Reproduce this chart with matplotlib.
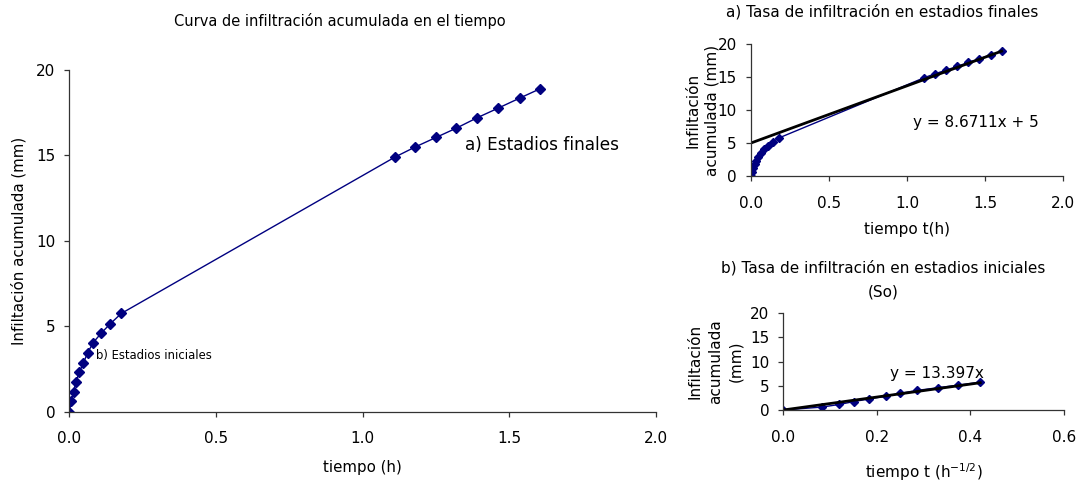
import matplotlib.pyplot as plt
import numpy as np

# tiempo (h) y raiz del tiempo para los estadios iniciales
raiz_t_ini = [0.0, 0.082, 0.12, 0.151, 0.184, 0.219, 0.25, 0.286, 0.33, 0.374, 0.421]
inf_ini = [0.0, 0.6, 1.15, 1.75, 2.3, 2.85, 3.45, 4.05, 4.6, 5.15, 5.75]

# estadios finales
t_fin = [1.11, 1.18, 1.25, 1.32, 1.39, 1.46, 1.535, 1.605]
inf_fin = [14.9, 15.5, 16.05, 16.6, 17.2, 17.75, 18.35, 18.9]

# ajustes lineales (Excel)
pend_fin, orden_fin = 8.6711, 5.0
pend_ini = 13.397

t_ini = [r ** 2 for r in raiz_t_ini]
t_todo = t_ini + t_fin
inf_todo = inf_ini + inf_fin

azul = '#000080'
W, H = 1085, 483


def ejes(x0, y0, x1, y1):
    # coordenadas en pixeles: (x0, y0) esquina inferior izquierda, (x1, y1) superior derecha
    ax = fig.add_axes([x0 / W, 1 - y0 / H, (x1 - x0) / W, (y0 - y1) / H])
    ax.spines['top'].set_visible(False)
    ax.spines['right'].set_visible(False)
    for s in ('left', 'bottom'):
        ax.spines[s].set_linewidth(0.9)
        ax.spines[s].set_color('#333333')
    ax.tick_params(direction='out', length=3.6, width=0.9, color='#333333', labelsize=11)
    ax.tick_params(axis='x', pad=10.5)
    ax.tick_params(axis='y', pad=6.5)
    return ax


fig = plt.figure(figsize=(W / 100, H / 100), dpi=100)

# grafico principal
ax = ejes(69.3, 411.7, 655.9, 70)
ax.plot(t_todo, inf_todo, color=azul, lw=1, marker='D', ms=5)
ax.set_xlim(0, 2)
ax.set_ylim(0, 20)
ax.set_xticks(np.arange(0, 2.01, 0.5))
ax.set_xticklabels(['0.0', '0.5', '1.0', '1.5', '2.0'])
ax.set_yticks([0, 5, 10, 15, 20])
ax.set_xlabel('tiempo (h)', fontsize=10.8, labelpad=10)
ax.set_ylabel('Infiltación acumulada (mm)', fontsize=10.8, labelpad=7)
ax.set_title('Curva de infiltración acumulada en el tiempo', fontsize=10.5, pad=31.5, x=0.461)
ax.text(1.35, 15.3, 'a) Estadios finales', fontsize=12.2)
ax.text(0.09, 3.1, 'b) Estadios iniciales', fontsize=8.4)

# a) estadios finales
ax2 = ejes(751, 176, 1063.3, 44)
ax2.plot(t_todo, inf_todo, color=azul, lw=1, marker='D', ms=4.5)
xs = np.array([0, t_fin[-1]])
ax2.plot(xs, pend_fin * xs + orden_fin, color='black', lw=2)
ax2.set_xlim(0, 2)
ax2.set_ylim(0, 20)
ax2.set_xticks(np.arange(0, 2.01, 0.5))
ax2.set_xticklabels(['0.0', '0.5', '1.0', '1.5', '2.0'])
ax2.set_yticks([0, 5, 10, 15, 20])
ax2.set_xlabel('tiempo t(h)', fontsize=11, labelpad=8)
ax2.set_ylabel('Infiltación\nacumulada (mm)', fontsize=11, labelpad=-1, linespacing=1.3)
ax2.set_title('a) Tasa de infiltración en estadios finales', fontsize=11, pad=19.5, x=0.42)
ax2.text(1.037, 8.18, 'y = 8.6711x + 5', fontsize=11, va='center')

# b) estadios iniciales
ax3 = ejes(783.3, 410, 1064, 313.3)
ax3.plot(raiz_t_ini, inf_ini, color=azul, lw=1, marker='D', ms=4.5)
xs = np.array([0, raiz_t_ini[-1]])
ax3.plot(xs, pend_ini * xs, color='black', lw=2)
ax3.set_xlim(0, 0.6)
ax3.set_ylim(0, 20)
ax3.set_xticks([0, 0.2, 0.4, 0.6])
ax3.set_xticklabels(['0.0', '0.2', '0.4', '0.6'])
ax3.set_yticks([0, 5, 10, 15, 20])
ax3.set_xlabel(r'tiempo t (h$^{-1/2}$)', fontsize=11, labelpad=12)
ax3.set_ylabel('Infiltación\nacumulada\n(mm)', fontsize=11, labelpad=5, linespacing=1.45)
ax3.set_title('b) Tasa de infiltración en estadios iniciales\n(So)', fontsize=11, pad=12,
              linespacing=1.75, x=0.355)
ax3.text(0.228, 7.65, 'y = 13.397x', fontsize=11, va='center')

fig.savefig('out.png', dpi=100)
